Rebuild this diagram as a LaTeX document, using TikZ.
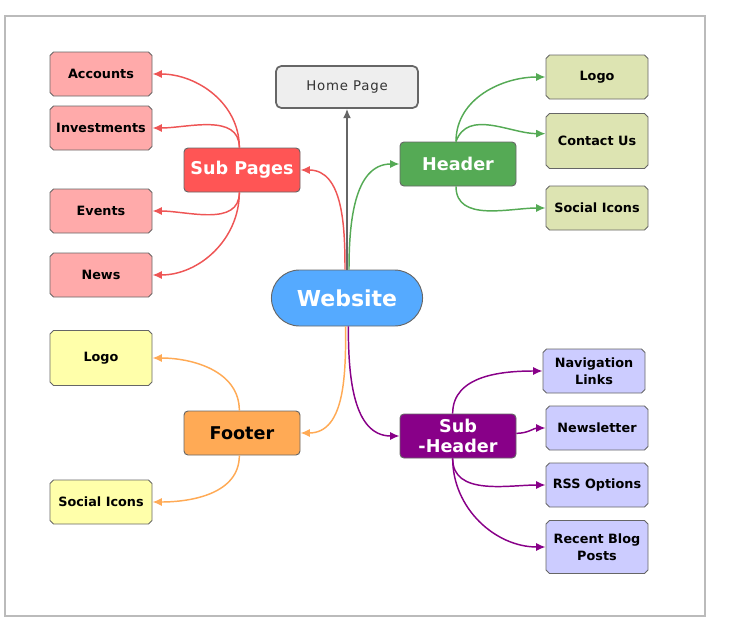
\documentclass[tikz,border=0pt]{standalone}
\usepackage{fontspec}
\setmainfont{DejaVu Sans}
\usetikzlibrary{arrows.meta}
\usetikzlibrary{shapes.misc}

\definecolor{framegray}{HTML}{BBBBBB}
\definecolor{boxline}{HTML}{666666}
\definecolor{homefill}{HTML}{EEEEEE}
\definecolor{sitefill}{HTML}{55AAFF}
\definecolor{redhub}{HTML}{FF5555}
\definecolor{redleaf}{HTML}{FFAAAA}
\definecolor{redlink}{HTML}{EE5555}
\definecolor{greenhub}{HTML}{55AA55}
\definecolor{greenleaf}{HTML}{DDE4B2}
\definecolor{orangehub}{HTML}{FFAA55}
\definecolor{yellowleaf}{HTML}{FFFFAA}
\definecolor{purplehub}{HTML}{880088}
\definecolor{purpleleaf}{HTML}{CCCCFF}

\begin{document}
\begin{tikzpicture}[x=0.75pt, y=-0.75pt,
    leaf/.style={chamfered rectangle, chamfered rectangle xsep=1.3pt, chamfered rectangle ysep=1.3pt,
        draw=boxline, line width=0.7pt, minimum width=76.5pt, minimum height=33pt, inner sep=1pt,
        align=center, font=\fontsize{9.6}{12.5}\selectfont\bfseries},
    hub/.style={rectangle, rounded corners=3pt, draw=boxline, line width=0.7pt,
        minimum width=87pt, minimum height=33pt, inner sep=1pt, align=center,
        font=\fontsize{13.2}{15.5}\selectfont\bfseries, text=white},
    link/.style={line width=1.1pt, -{Latex[length=7pt,width=6pt]}}]
    \useasboundingbox (0,0) rectangle (731,621);
    \draw[framegray, line width=0.8pt] (5,16) rectangle (705,616);

    % Centre
    \node[rounded rectangle, draw=boxline, line width=0.7pt, fill=sitefill, text=white,
        minimum width=120pt, minimum height=42pt, font=\fontsize{16.5}{16.5}\selectfont\bfseries]
        (site) at (347,298) {Website};
    \node[rectangle, rounded corners=4pt, draw=boxline, line width=1.3pt, fill=homefill, text=black!80,
        minimum width=106.5pt, minimum height=31.5pt, font=\fontsize{10}{12}\selectfont\addfontfeatures{LetterSpace=6}]
        (home) at (347,87) {Home Page};
    \draw[link, boxline] (site.north) -- (home.south);

    % Sub Pages
    \node[hub, fill=redhub] (subpages) at (242,170) {Sub Pages};
    \node[leaf, fill=redleaf] (accounts) at (101,74) {Accounts};
    \node[leaf, fill=redleaf] (invest) at (101,128) {Investments};
    \node[leaf, fill=redleaf] (events) at (101,211) {Events};
    \node[leaf, fill=redleaf] (news) at (101,275) {News};
    \draw[link, redlink] ([xshift=-1.5pt]site.north) to[out=90, in=0] (subpages.east);
    \draw[link, redlink] ([xshift=-2pt]subpages.north) to[out=90, in=0] (accounts.east);
    \draw[link, redlink] ([xshift=-2pt]subpages.north) to[out=90, in=0] (invest.east);
    \draw[link, redlink] ([xshift=-2pt]subpages.south) to[out=-90, in=0] (events.east);
    \draw[link, redlink] ([xshift=-2pt]subpages.south) to[out=-90, in=0] (news.east);

    % Header
    \node[hub, fill=greenhub] (header) at (458,164) {Header};
    \node[leaf, fill=greenleaf] (hlogo) at (597,77) {Logo};
    \node[leaf, fill=greenleaf, minimum height=41.25pt] (contact) at (597,141) {Contact Us};
    \node[leaf, fill=greenleaf] (hsocial) at (597,208) {Social Icons};
    \draw[link, greenhub] ([xshift=1.5pt]site.north) to[out=90, in=180] (header.west);
    \draw[link, greenhub] ([xshift=-1.5pt]header.north) to[out=90, in=180] (hlogo.west);
    \draw[link, greenhub] ([xshift=-1.5pt]header.north) to[out=70, in=180] ([yshift=5.5pt]contact.west);
    \draw[link, greenhub] ([xshift=-1.5pt]header.south) to[out=-90, in=180] (hsocial.west);

    % Footer
    \node[hub, fill=orangehub, text=black] (footer) at (242,433) {Footer};
    \node[leaf, fill=yellowleaf, minimum height=41.25pt] (flogo) at (101,358) {Logo};
    \node[leaf, fill=yellowleaf] (fsocial) at (101,502) {Social Icons};
    \draw[link, orangehub] ([xshift=-1pt]site.south) to[out=-90, in=0] (footer.east);
    \draw[link, orangehub] ([xshift=-2pt]footer.north) to[out=90, in=0] (flogo.east);
    \draw[link, orangehub] ([xshift=-2pt]footer.south) to[out=-90, in=0] (fsocial.east);

    % Sub-Header
    \node[hub, fill=purplehub] (subhead) at (458,436) {Sub\\-Header};
    \node[leaf, fill=purpleleaf] (navlinks) at (594,371) {Navigation\\Links};
    \node[leaf, fill=purpleleaf] (newsletter) at (597,428) {Newsletter};
    \node[leaf, fill=purpleleaf] (rss) at (597,485) {RSS Options};
    \node[leaf, fill=purpleleaf, minimum height=39.75pt] (blog) at (597,547) {Recent Blog\\Posts};
    \draw[link, purplehub] ([xshift=1pt]site.south) to[out=-90, in=180] (subhead.west);
    \draw[link, purplehub] ([xshift=-4pt]subhead.north) to[out=90, in=180] (navlinks.west);
    \draw[link, purplehub] ([yshift=2pt]subhead.east) to[out=0, in=180] (newsletter.west);
    \draw[link, purplehub] ([xshift=-4pt]subhead.south) to[out=-90, in=180] (rss.west);
    \draw[link, purplehub] ([xshift=-4pt]subhead.south) to[out=-90, in=180] (blog.west);
\end{tikzpicture}
\end{document}
